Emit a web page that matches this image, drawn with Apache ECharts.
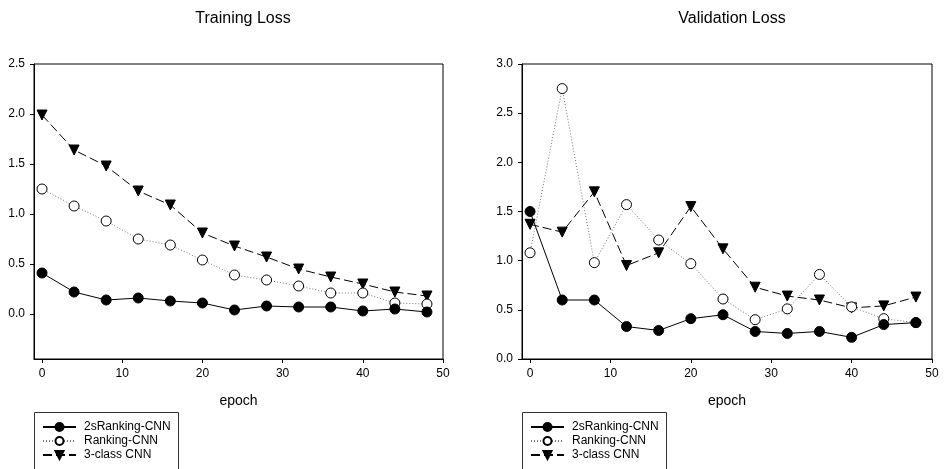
<!DOCTYPE html>
<html>
<head>
<meta charset="utf-8">
<script src="https://cdn.jsdelivr.net/npm/echarts@6/dist/echarts.min.js"></script>
<style>
  html, body {margin: 0; padding: 0; background: #fff;}
  #main {width: 945px; height: 469px;}
</style>
</head>
<body>
<div id="main"></div>
<script>
const epochs = [0, 4, 8, 12, 16, 20, 24, 28, 32, 36, 40, 44, 48];
const names = ['2sRanking-CNN', 'Ranking-CNN', '3-class CNN'];

// training loss
const train2s = [0.41, 0.22, 0.14, 0.16, 0.13, 0.11, 0.04, 0.08, 0.07, 0.07, 0.03, 0.05, 0.02];
const trainRank = [1.25, 1.08, 0.93, 0.75, 0.69, 0.54, 0.39, 0.34, 0.28, 0.21, 0.21, 0.11, 0.10];
const train3c = [1.99, 1.64, 1.48, 1.23, 1.09, 0.81, 0.68, 0.57, 0.45, 0.37, 0.30, 0.22, 0.18];

// validation loss
const val2s = [1.50, 0.60, 0.60, 0.33, 0.29, 0.41, 0.45, 0.28, 0.26, 0.28, 0.22, 0.35, 0.37];
const valRank = [1.08, 2.75, 0.98, 1.57, 1.21, 0.97, 0.61, 0.40, 0.51, 0.86, 0.53, 0.41, 0.37];
const val3c = [1.37, 1.29, 1.70, 0.95, 1.08, 1.55, 1.12, 0.73, 0.64, 0.60, 0.52, 0.54, 0.63];

const xTicks = [0, 10, 20, 30, 40, 50];
const trainTicks = [0, 0.5, 1.0, 1.5, 2.0, 2.5];
const valTicks = [0, 0.5, 1.0, 1.5, 2.0, 2.5, 3.0];

const font = 'Liberation Sans, Arial, sans-serif';
const pair = (ys) => epochs.map((e, i) => [e, ys[i]]);

const xAxis = (idx) => ({
  type: 'value', gridIndex: idx, min: -1, max: 50,
  name: 'epoch', nameLocation: 'middle', nameGap: 35,
  nameTextStyle: {fontFamily: font, fontSize: 14, color: '#000'},
  axisLine: {show: true, onZero: false, lineStyle: {color: '#000', width: 1}},
  axisTick: {show: true, customValues: xTicks, length: 4, lineStyle: {color: '#000'}},
  axisLabel: {customValues: xTicks, margin: 9, fontFamily: font, fontSize: 12, color: '#000'},
  splitLine: {show: false}
});
const yAxis = (idx, min, max, ticks) => ({
  type: 'value', gridIndex: idx, min: min, max: max,
  axisLine: {show: true, onZero: false, lineStyle: {color: '#000', width: 1}},
  axisTick: {show: true, customValues: ticks, length: 4, lineStyle: {color: '#000'}},
  axisLabel: {customValues: ticks, margin: 9, fontFamily: font, fontSize: 12, color: '#000',
    formatter: v => v.toFixed(1)},
  splitLine: {show: false}
});

const styles = [
  {symbol: 'circle', symbolSize: 10, symbolRotate: 0,
    itemStyle: {color: '#000', borderColor: '#000', borderWidth: 1},
    lineStyle: {color: '#000', width: 1, type: 'solid'}},
  {symbol: 'circle', symbolSize: 10, symbolRotate: 0,
    itemStyle: {color: '#fff', borderColor: '#000', borderWidth: 1},
    lineStyle: {color: '#777', width: 1, type: [1, 2]}},
  {symbol: 'triangle', symbolSize: 10, symbolRotate: 180,
    itemStyle: {color: '#000', borderColor: '#000', borderWidth: 1},
    lineStyle: {color: '#000', width: 1, type: [9, 4]}}
];

const makeSeries = (idx, sets) => sets.map((ys, i) => Object.assign({
  type: 'line', name: names[i], xAxisIndex: idx, yAxisIndex: idx,
  data: pair(ys), animation: false, z: 3 - i
}, styles[i]));

const legend = (left) => ({
  data: names, orient: 'vertical', left: left, top: 412,
  padding: [9, 12, 2, 8], itemWidth: 33, itemHeight: 10, itemGap: 2,
  selectedMode: false,
  textStyle: {fontFamily: font, fontSize: 12, color: '#000', padding: [0, 0, 0, 3]}
});

// legend frame, runs off the bottom edge like the original
const legendBox = (left) => ({
  type: 'rect',
  shape: {x: left + 0.5, y: 412.5, width: 144, height: 80},
  style: {fill: 'none', stroke: '#333', lineWidth: 1}
});

const chart = echarts.init(document.getElementById('main'));
chart.setOption({
  backgroundColor: '#fff',
  animation: false,
  title: [
    {text: 'Training Loss', left: 238, top: 6, textAlign: 'center',
      textStyle: {fontFamily: font, fontSize: 16, fontWeight: 'normal', color: '#000'}},
    {text: 'Validation Loss', left: 727, top: 6, textAlign: 'center',
      textStyle: {fontFamily: font, fontSize: 16, fontWeight: 'normal', color: '#000'}}
  ],
  grid: [
    {left: 34, top: 64, width: 409, height: 295, show: true, borderColor: '#000', borderWidth: 1},
    {left: 522, top: 64, width: 410, height: 295, show: true, borderColor: '#000', borderWidth: 1}
  ],
  xAxis: [xAxis(0), xAxis(1)],
  yAxis: [yAxis(0, -0.45, 2.5, trainTicks), yAxis(1, 0, 3, valTicks)],
  legend: [legend(34), legend(522)],
  graphic: [legendBox(34), legendBox(522)],
  series: [
    ...makeSeries(0, [train2s, trainRank, train3c]),
    ...makeSeries(1, [val2s, valRank, val3c])
  ]
});
</script>
</body>
</html>
